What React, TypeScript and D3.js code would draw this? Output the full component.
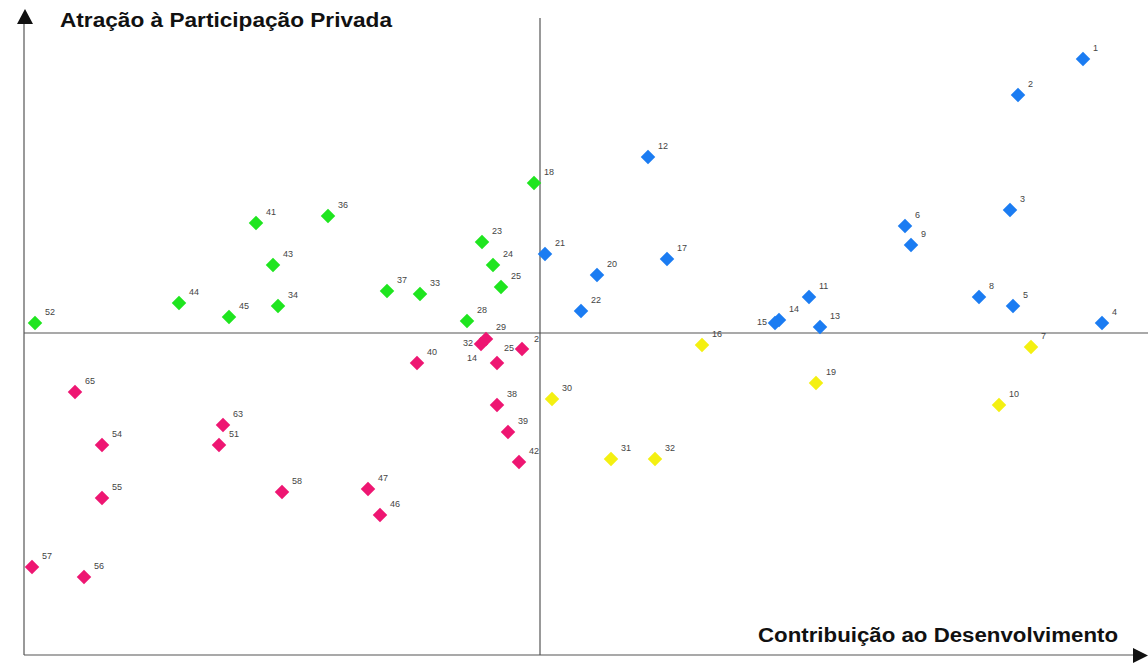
import React from "react";
import * as d3 from "d3";

// Point ids, coordinates (x: Contribuição ao Desenvolvimento, y: Atração à Participação Privada)
const blueIds = ["1", "2", "12", "3", "6", "9", "21", "17", "20", "8", "5", "11", "22", "14", "15", "13", "4"];
const blueX = [10.86, 9.56, 2.16, 9.4, 7.3, 7.42, 0.1, 2.54, 1.14, 8.78, 9.46, 5.38, 0.82, 4.78, 4.7, 5.6, 11.24];
const blueY = [5.48, 4.76, 3.52, 2.46, 2.14, 1.76, 1.58, 1.48, 1.16, 0.72, 0.54, 0.72, 0.44, 0.26, 0.2, 0.12, 0.2];

const greenIds = ["18", "41", "36", "23", "24", "43", "25", "37", "33", "44", "34", "45", "52", "28"];
const greenX = [-0.12, -5.68, -4.24, -1.16, -0.94, -5.34, -0.78, -3.06, -2.4, -7.22, -5.24, -6.22, -10.1, -1.46];
const greenY = [3.0, 2.2, 2.34, 1.82, 1.36, 1.36, 0.92, 0.84, 0.78, 0.6, 0.54, 0.32, 0.2, 0.24];

const pinkIds = ["32", "29", "25", "14", "40", "38", "39", "42", "47", "46", "58", "63", "51", "65", "54", "55", "57", "56"];
const pinkX = [-1.18, -1.08, -0.36, -0.86, -2.46, -0.86, -0.64, -0.42, -3.44, -3.2, -5.16, -6.34, -6.42, -9.3, -8.76, -8.76, -10.16, -9.12];
const pinkY = [-0.22, -0.12, -0.32, -0.6, -0.6, -1.44, -1.98, -2.58, -3.12, -3.64, -3.18, -1.84, -2.24, -1.18, -2.24, -3.3, -4.68, -4.88];

const yellowIds = ["16", "7", "19", "10", "30", "31", "32"];
const yellowX = [3.24, 9.82, 5.52, 9.18, 0.24, 1.42, 2.3];
const yellowY = [-0.24, -0.28, -1.0, -1.44, -1.32, -2.52, -2.52];

const yTitle = "Atração à Participação Privada";
const xTitle = "Contribuição ao Desenvolvimento";

const W = 1148;
const H = 663;

// label placement overrides (style only)
const labelLeft = new Set(["blue-15", "pink-32", "pink-25", "pink-14"]);

export default function App() {
  const x = d3.scaleLinear().domain([-10.32, 0]).range([24, 540]);
  const y = d3.scaleLinear().domain([0, -6.44]).range([333, 655]);

  const groups = [
    { key: "blue", color: "#1b7cf2", ids: blueIds, xs: blueX, ys: blueY },
    { key: "green", color: "#1fe51f", ids: greenIds, xs: greenX, ys: greenY },
    { key: "pink", color: "#ee1672", ids: pinkIds, xs: pinkX, ys: pinkY },
    { key: "yellow", color: "#f4f011", ids: yellowIds, xs: yellowX, ys: yellowY },
  ];

  const diamond = d3.symbol().type(d3.symbolDiamond2).size(135)();
  const x0 = x(0);
  const y0 = y(0);
  const xL = x(-10.32);
  const yB = y(-6.44);

  return (
    <svg width={W} height={H} style={{ position: "absolute", left: 0, top: 0, background: "#fff" }}
      fontFamily="Liberation Sans, Arial, sans-serif">
      {/* axes */}
      <g stroke="#555" strokeWidth={1.2} fill="none">
        <line x1={xL} y1={20} x2={xL} y2={yB} />
        <line x1={xL} y1={yB} x2={1136} y2={yB} />
        <line x1={x0} y1={18} x2={x0} y2={yB} />
        <line x1={xL} y1={y0} x2={W} y2={y0} />
      </g>
      <path d={`M${xL + 1},9 L${xL + 9},24 L${xL - 7},24 Z`} fill="#111" />
      <path d={`M1133,648 L1148,655.5 L1133,663 Z`} fill="#111" />
      <text x={60} y={27} fontSize={20} fontWeight="bold" fill="#111" textLength={332} lengthAdjust="spacingAndGlyphs">{yTitle}</text>
      <text x={758} y={642} fontSize={19.5} fontWeight="bold" fill="#111" textLength={360} lengthAdjust="spacingAndGlyphs">{xTitle}</text>

      {groups.map((g) => (
        <g key={g.key}>
          {g.ids.map((id, i) => {
            const px = x(g.xs[i]);
            const py = y(g.ys[i]);
            const left = labelLeft.has(`${g.key}-${id}`);
            let dx = 10, dy = -8, anchor = "start";
            if (left) { dx = -8; dy = 2; anchor = "end"; }
            if (g.key === "pink" && id === "14") { dx = -20; dy = -2; }
            if (g.key === "pink" && id === "29") { dx = 10; dy = -9; }
            return (
              <g key={i}>
                <path d={diamond} transform={`translate(${px},${py})`} fill={g.color} />
                <text x={px + dx} y={py + dy} fontSize={9} fill="#444" textAnchor={anchor}>{id}</text>
              </g>
            );
          })}
        </g>
      ))}
      <text x={x0 - 6} y={y0 + 9} fontSize={9} fill="#444">2</text>
    </svg>
  );
}
